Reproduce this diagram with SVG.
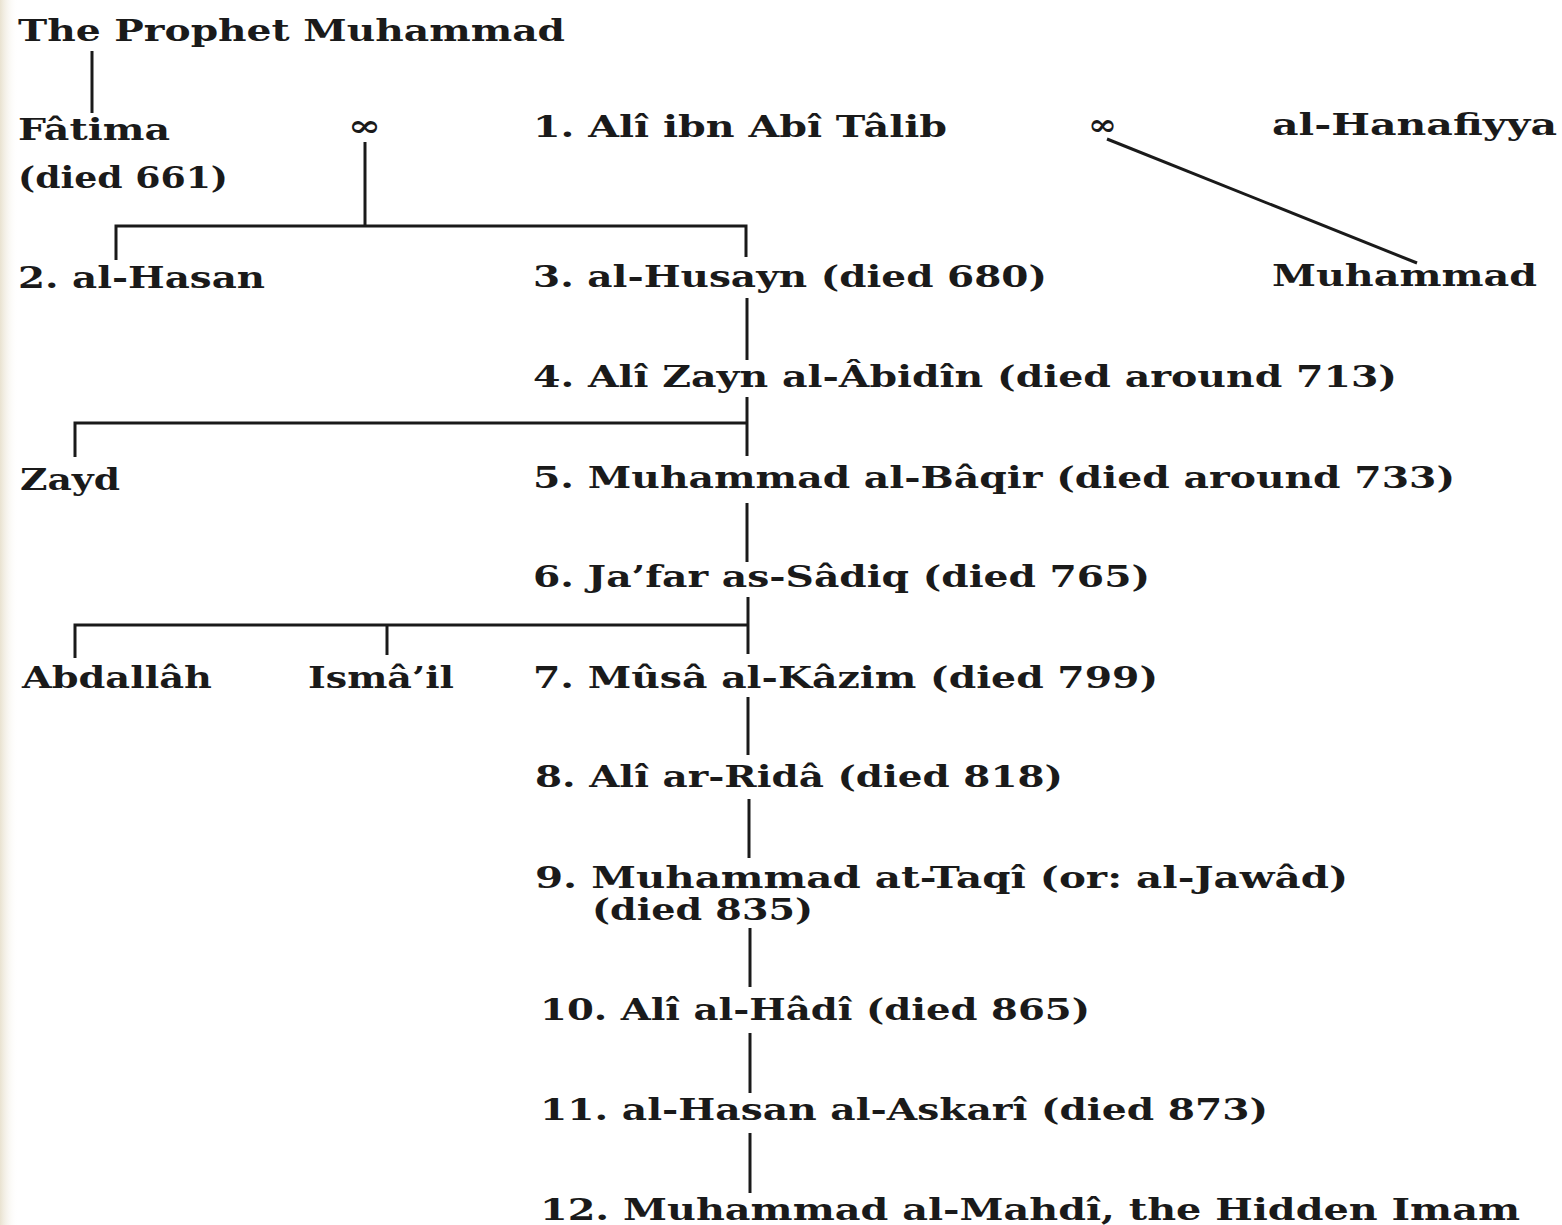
<svg xmlns="http://www.w3.org/2000/svg" width="1562" height="1225" viewBox="0 0 1562 1225">
<defs>
<linearGradient id="edge" x1="0" y1="0" x2="1" y2="0">
<stop offset="0" stop-color="#e9e2d0"/>
<stop offset="1" stop-color="#ffffff" stop-opacity="0"/>
</linearGradient>
<style>
text{font-family:"DejaVu Serif","Liberation Serif",serif;font-size:30px;font-weight:bold;fill:#1a1a1a}
.c line,.c path{stroke:#1a1a1a;stroke-width:3;fill:none;stroke-linecap:butt}
</style>
</defs>
<rect width="1562" height="1225" fill="#ffffff"/>
<rect width="18" height="1225" fill="url(#edge)"/>
<g class="c" id="connectors">
<line x1="92" y1="51" x2="92" y2="113"/>
<line x1="365" y1="142" x2="365" y2="226"/>
<path d="M116 260V226H746V257"/>
<line x1="747" y1="298" x2="747" y2="360"/>
<line x1="1107" y1="139" x2="1417" y2="263"/>
<path d="M75 457V423H747"/>
<line x1="747" y1="397" x2="747" y2="456"/>
<line x1="747" y1="503" x2="747" y2="562"/>
<path d="M75 658V625H748"/>
<line x1="387" y1="625" x2="387" y2="655"/>
<line x1="748" y1="597" x2="748" y2="654"/>
<line x1="748" y1="697" x2="748" y2="755"/>
<line x1="749" y1="799" x2="749" y2="858"/>
<line x1="750" y1="928" x2="750" y2="987"/>
<line x1="750" y1="1033" x2="750" y2="1093"/>
<line x1="750" y1="1133" x2="750" y2="1193"/>
</g>
<g id="prophet"><text x="18" y="41" textLength="547" lengthAdjust="spacingAndGlyphs">The Prophet Muhammad</text></g>
<g id="fatima"><text x="18" y="140" textLength="152" lengthAdjust="spacingAndGlyphs">Fâtima</text><text x="18" y="188" textLength="210" lengthAdjust="spacingAndGlyphs">(died 661)</text></g>
<g id="marriage1"><text x="348" y="136" textLength="33" lengthAdjust="spacingAndGlyphs">∞</text></g>
<g id="ali"><text x="533" y="137" textLength="414" lengthAdjust="spacingAndGlyphs">1. Alî ibn Abî Tâlib</text></g>
<g id="marriage2"><text x="1088" y="135" textLength="29" lengthAdjust="spacingAndGlyphs">∞</text></g>
<g id="hanafiyya"><text x="1272" y="135" textLength="285" lengthAdjust="spacingAndGlyphs">al-Hanafiyya</text></g>
<g id="hasan"><text x="18" y="288" textLength="247" lengthAdjust="spacingAndGlyphs">2. al-Hasan</text></g>
<g id="husayn"><text x="533" y="287" textLength="514" lengthAdjust="spacingAndGlyphs">3. al-Husayn (died 680)</text></g>
<g id="muhammad-hanafiyya"><text x="1272" y="286" textLength="265" lengthAdjust="spacingAndGlyphs">Muhammad</text></g>
<g id="zayn"><text x="533" y="387" textLength="864" lengthAdjust="spacingAndGlyphs">4. Alî Zayn al-Âbidîn (died around 713)</text></g>
<g id="zayd"><text x="20" y="490" textLength="100" lengthAdjust="spacingAndGlyphs">Zayd</text></g>
<g id="baqir"><text x="533" y="488" textLength="922" lengthAdjust="spacingAndGlyphs">5. Muhammad al-Bâqir (died around 733)</text></g>
<g id="jafar"><text x="533" y="587" textLength="617" lengthAdjust="spacingAndGlyphs">6. Ja’far as-Sâdiq (died 765)</text></g>
<g id="abdallah"><text x="22" y="688" textLength="190" lengthAdjust="spacingAndGlyphs">Abdallâh</text></g>
<g id="ismail"><text x="308" y="688" textLength="146" lengthAdjust="spacingAndGlyphs">Ismâ’il</text></g>
<g id="musa"><text x="533" y="688" textLength="625" lengthAdjust="spacingAndGlyphs">7. Mûsâ al-Kâzim (died 799)</text></g>
<g id="rida"><text x="535" y="787" textLength="528" lengthAdjust="spacingAndGlyphs">8. Alî ar-Ridâ (died 818)</text></g>
<g id="taqi"><text x="535" y="888" textLength="813" lengthAdjust="spacingAndGlyphs">9. Muhammad at-Taqî (or: al-Jawâd)</text><text x="592" y="920" textLength="221" lengthAdjust="spacingAndGlyphs">(died 835)</text></g>
<g id="hadi"><text x="540" y="1020" textLength="550" lengthAdjust="spacingAndGlyphs">10. Alî al-Hâdî (died 865)</text></g>
<g id="askari"><text x="540" y="1120" textLength="728" lengthAdjust="spacingAndGlyphs">11. al-Hasan al-Askarî (died 873)</text></g>
<g id="mahdi"><text x="540" y="1220" textLength="980" lengthAdjust="spacingAndGlyphs">12. Muhammad al-Mahdî, the Hidden Imam</text></g>
</svg>
